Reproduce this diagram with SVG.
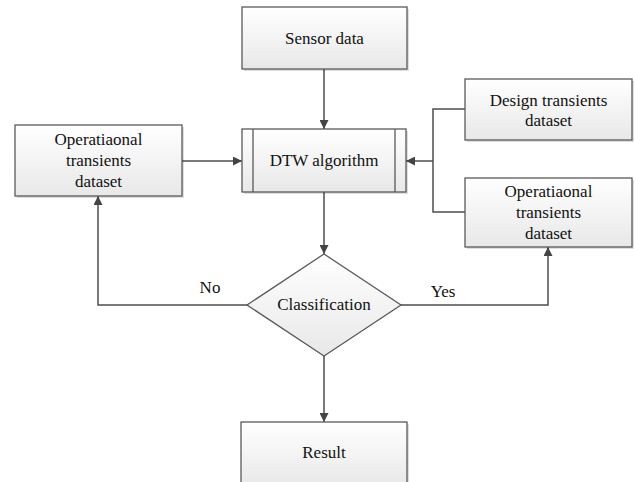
<svg xmlns="http://www.w3.org/2000/svg" width="634" height="482" viewBox="0 0 634 482">
<style>
.box{fill:url(#g);stroke:#5a5a5a;stroke-width:1.3}
.sh{fill:#000;fill-opacity:0.13;stroke:none}
.ln{fill:none;stroke:#4d4d4d;stroke-width:1.5}
.t{fill:#111;text-anchor:middle;font-family:'Liberation Serif',serif;font-size:17px}
</style>
<defs>
<linearGradient id="g" x1="0" y1="0" x2="0" y2="1">
<stop offset="0" stop-color="#ffffff"/>
<stop offset="1" stop-color="#e8e8e8"/>
</linearGradient>
<marker id="ah" viewBox="0 0 10 10" refX="10" refY="5" markerWidth="9" markerHeight="9" markerUnits="userSpaceOnUse" orient="auto">
<path d="M0,0 L10,5 L0,10 z" fill="#444"/>
</marker>
</defs>
<g id="connectors">
<path class="ln" d="M324,69 V129" marker-end="url(#ah)"/>
<path class="ln" d="M182,161 H242" marker-end="url(#ah)"/>
<path class="ln" d="M465,109 H433 V212 H465"/>
<path class="ln" d="M433,161 H406" marker-end="url(#ah)"/>
<path class="ln" d="M324,192 V254" marker-end="url(#ah)"/>
<path class="ln" d="M247,305 H98 V196" marker-end="url(#ah)"/>
<path class="ln" d="M401,305 H548 V247" marker-end="url(#ah)"/>
<path class="ln" d="M324,356 V422" marker-end="url(#ah)"/>
<text class="t" x="210" y="293">No</text>
<text class="t" x="443" y="297">Yes</text>
</g>
<g id="sensor">
<rect class="sh" x="244" y="9" width="165" height="62"/>
<rect class="box" x="242" y="7" width="165" height="62"/>
<text class="t" x="324.5" y="44">Sensor data</text>
</g>
<g id="dtw">
<rect class="sh" x="244" y="131" width="164" height="63"/>
<rect class="box" x="242" y="129" width="164" height="63"/>
<path class="ln" d="M253,129 V192 M395,129 V192" style="stroke-width:1.2"/>
<text class="t" x="324" y="166">DTW algorithm</text>
</g>
<g id="ops-left">
<rect class="sh" x="17" y="127" width="167" height="71"/>
<rect class="box" x="15" y="125" width="167" height="71"/>
<text class="t" x="98.5" y="145">Operatiaonal</text>
<text class="t" x="98.5" y="166">transients</text>
<text class="t" x="98.5" y="187">dataset</text>
</g>
<g id="design">
<rect class="sh" x="467" y="81" width="167" height="61"/>
<rect class="box" x="465" y="79" width="167" height="61"/>
<text class="t" x="548.5" y="106">Design transients</text>
<text class="t" x="548.5" y="126">dataset</text>
</g>
<g id="ops-right">
<rect class="sh" x="467" y="180" width="167" height="69"/>
<rect class="box" x="465" y="178" width="167" height="69"/>
<text class="t" x="548.5" y="197">Operatiaonal</text>
<text class="t" x="548.5" y="218">transients</text>
<text class="t" x="548.5" y="239">dataset</text>
</g>
<g id="classification">
<path class="box" d="M324,254 L401,305 L324,356 L247,305 Z"/>
<text class="t" x="324" y="310">Classification</text>
</g>
<g id="result">
<rect class="sh" x="243" y="424" width="166" height="64"/>
<rect class="box" x="241" y="422" width="166" height="64"/>
<text class="t" x="324" y="458">Result</text>
</g>
</svg>
